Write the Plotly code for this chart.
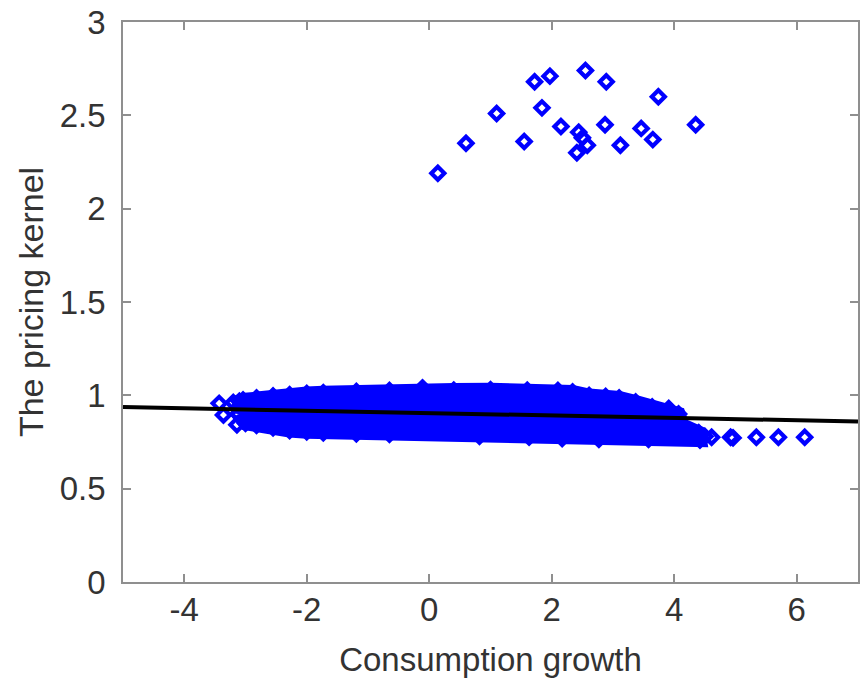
import plotly.graph_objects as go

# ---- data ----
# isolated high-kernel points
out_x = [0.14, 0.60, 1.10, 1.55, 1.72, 1.84, 1.97, 2.15, 2.41, 2.44, 2.50, 2.55,
         2.58, 2.87, 2.89, 3.12, 3.46, 3.65, 3.74, 4.35]
out_y = [2.19, 2.35, 2.51, 2.36, 2.68, 2.54, 2.71, 2.44, 2.30, 2.41, 2.38, 2.74,
         2.34, 2.45, 2.68, 2.34, 2.43, 2.37, 2.60, 2.45]

# separate points at the left tip and right tail of the main cloud
tip_x = [-3.43, -3.20, -3.36, -3.14]
tip_y = [0.957, 0.962, 0.895, 0.842]
tail_x = [4.50, 4.61, 4.92, 4.96, 5.34, 5.70, 6.13]
tail_y = [0.780, 0.775, 0.775, 0.772, 0.775, 0.775, 0.775]

# outline of the dense cloud of points (marker centres along its edge)
cloud_x = [-3.12, -3.10, -3.04, -2.82, -2.55, -2.28, -2.00, -1.73, -1.19, -0.65,
           -0.11, 0.40, 1.00, 1.60, 2.10, 2.34, 2.61, 2.88, 3.10, 3.37, 3.64,
           3.91, 4.07, 4.13, 4.40, 4.42, 3.58, 2.77, 2.17, 1.63, 0.82, -0.65,
           -1.19, -1.73, -2.00, -2.28, -2.55, -2.82, -3.00, -3.12]
cloud_y = [0.900, 0.968, 0.975, 0.986, 0.996, 1.003, 1.010, 1.014, 1.021, 1.026,
           1.040, 1.028, 1.030, 1.027, 1.026, 1.018, 0.999, 0.994, 0.986, 0.964,
           0.938, 0.929, 0.900, 0.840, 0.800, 0.760, 0.764, 0.764, 0.769, 0.776,
           0.781, 0.791, 0.794, 0.800, 0.805, 0.812, 0.826, 0.840, 0.850, 0.900]

# fitted line endpoints
line_x = [-5, 7]
line_y = [0.937, 0.860]

xtick_vals = [-4, -2, 0, 2, 4, 6]
xtick_text = ["-4", "-2", "0", "2", "4", "6"]
ytick_vals = [0, 0.5, 1, 1.5, 2, 2.5, 3]
ytick_text = ["0", "0.5", "1", "1.5", "2", "2.5", "3"]

BLUE = "#0000ff"
FONT = "Liberation Sans, Arial, sans-serif"
TXT = "#333333"
AX = "#8f8f8f"

mk = dict(symbol="diamond-open", size=10, color=BLUE, line=dict(width=4.2, color=BLUE))

fig = go.Figure()
fig.add_trace(go.Scatter(x=cloud_x, y=cloud_y, mode="lines+markers", fill="toself",
                         fillcolor=BLUE, line=dict(color=BLUE, width=14),
                         marker=mk, hoverinfo="skip"))
fig.add_trace(go.Scatter(x=tip_x, y=tip_y, mode="markers", marker=mk))
fig.add_trace(go.Scatter(x=tail_x, y=tail_y, mode="markers", marker=mk))
fig.add_trace(go.Scatter(x=out_x, y=out_y, mode="markers", marker=mk))
fig.add_trace(go.Scatter(x=line_x, y=line_y, mode="lines",
                         line=dict(color="black", width=4)))

axis_common = dict(showgrid=False, zeroline=False, showline=True, linecolor=AX,
                   linewidth=1.6, mirror="ticks", ticks="inside", ticklen=8,
                   tickcolor=AX, tickwidth=1.6, ticklabeloverflow="allow",
                   tickfont=dict(family=FONT, size=33, color=TXT))

fig.update_layout(
    width=864, height=682,
    margin=dict(l=123, r=4, t=17, b=100),
    paper_bgcolor="white", plot_bgcolor="white",
    showlegend=False,
    xaxis=dict(range=[-5, 7], tickvals=xtick_vals, ticktext=xtick_text,
               ticklabelstandoff=-2,
               title=dict(text="Consumption growth",
                          font=dict(family=FONT, size=33, color=TXT), standoff=20),
               **axis_common),
    yaxis=dict(range=[0, 3], tickvals=ytick_vals, ticktext=ytick_text,
               ticklabelstandoff=9,
               title=dict(text="The pricing kernel",
                          font=dict(family=FONT, size=34, color=TXT), standoff=6),
               **axis_common),
)

fig.write_html("out.html")
